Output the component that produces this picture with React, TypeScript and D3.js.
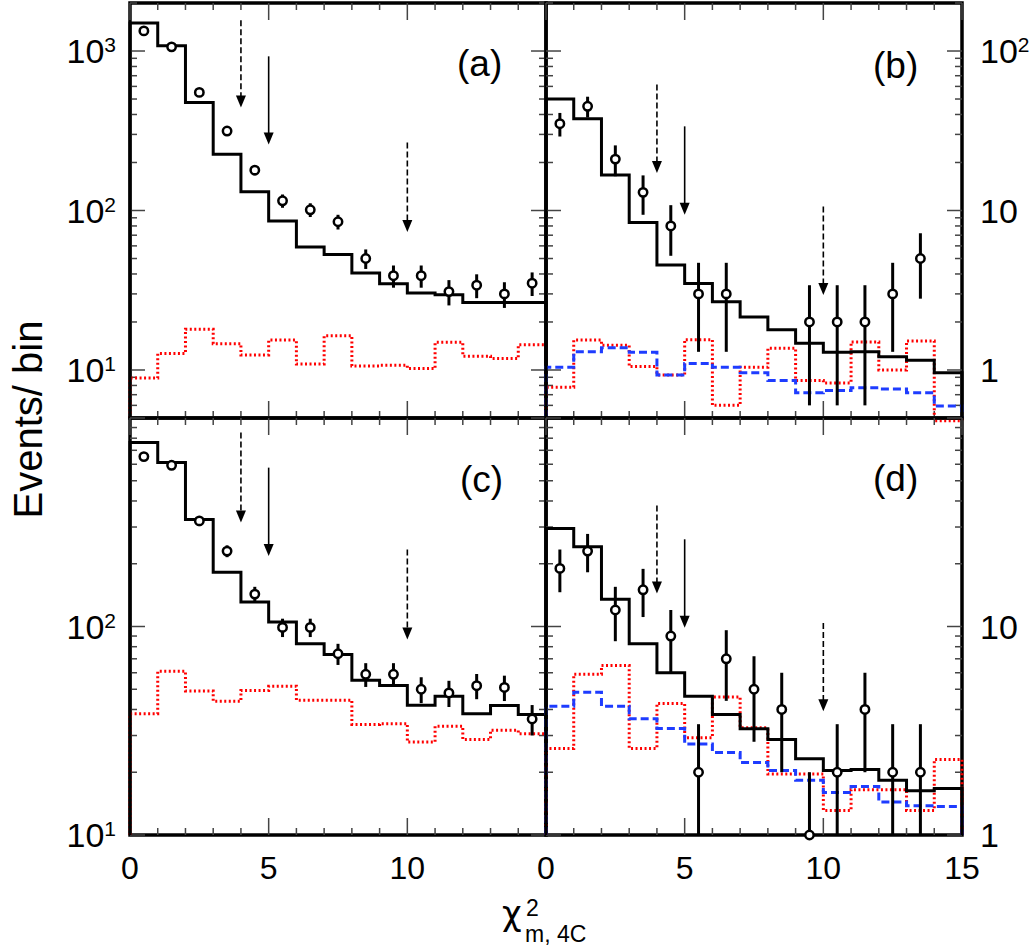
import * as d3 from 'd3'

// bins of chi2 (width 1, 0..15)
const binLow = [0, 1, 2, 3, 4, 5, 6, 7, 8, 9, 10, 11, 12, 13, 14]
const binMid = [0.5, 1.5, 2.5, 3.5, 4.5, 5.5, 6.5, 7.5, 8.5, 9.5, 10.5, 11.5, 12.5, 13.5, 14.5]

// panel (a)
const mcA = [1500, 1080, 475, 225, 131, 86, 59, 53, 40.6, 34.7, 30.4, 29.6, 26.5, 26.5, 26.5]
const redA = [8.9, 12.7, 18.0, 14.6, 12.4, 15.4, 10.9, 16.4, 10.6, 10.7, 10.2, 14.9, 12.2, 11.8, 14.4]
const dataA = [1337, 1062, 550, 315, 179, 115, 101, 85, 50, 39, 39, 31, 34, 30, 35]
const errA = [37, 33, 23, 18, 13, 11, 10, 9, 7, 6.2, 6.2, 5.6, 5.8, 5.5, 5.9]

// panel (b)
const mcB = [50, 37.6, 16.7, 8.4, 4.55, 3.49, 2.68, 2.15, 1.79, 1.47, 1.29, 1.3, 1.21, 1.15, 0.96]
const redB = [0.78, 1.54, 1.43, 1.05, 0.93, 1.55, 0.6, 1.04, 1.37, 0.86, 0.83, 1.5, 1.0, 1.52, 0.48]
const blueB = [1.04, 1.3, 1.38, 1.29, 0.93, 1.1, 1.04, 0.96, 0.86, 0.72, 0.745, 0.775, 0.76, 0.72, 0.594]
const dataB = [35, 45, 21, 13, 8, 3, 3, null, null, 2, 2, 2, 3, 5, null]
const errB = [5.9, 6.7, 4.6, 3.6, 2.8, 1.7, 1.7, null, null, 1.4, 1.4, 1.4, 1.7, 2.2, null]

// panel (c)
const mcC = [762, 611, 326, 182, 131, 105, 82.7, 73.4, 55.3, 52.1, 41.9, 46.3, 38.2, 41.8, 37.8]
const redC = [38.2, 61, 49, 43.8, 49.3, 51.7, 44.3, 44.3, 33.9, 34.2, 27.9, 33.2, 28.7, 31.8, 30.6]
const dataC = [653, 593, 321, 230, 143, 99, 99, 74, 59, 59, 50, 48, 52, 51, 36]
const errC = [26, 24, 18, 15, 12, 10, 10, 8.6, 7.7, 7.7, 7.1, 6.9, 7.2, 7.1, 6]

// panel (d)
const mcD = [29.5, 24.1, 13.5, 8.27, 6.0, 4.63, 3.78, 3.23, 2.87, 2.32, 2.04, 2.06, 1.83, 1.63, 1.67]
const redD = [2.6, 5.9, 6.5, 2.6, 4.27, 2.93, 4.59, 3.27, 1.96, 1.96, 1.31, 1.65, 1.65, 1.31, 2.3]
const blueD = [4.14, 4.84, 4.14, 3.61, 3.24, 2.73, 2.49, 2.23, 2.04, 1.83, 1.6, 1.71, 1.44, 1.38, 1.37]
const dataD = [19, 23, 12, 15, 9, 2, 7, 5, 4, 1, 2, 4, 2, 2, null]
const errD = [4.4, 4.8, 3.5, 3.9, 3, 1.4, 2.6, 2.2, 2, 1, 1.4, 2, 1.4, 1.4, null]

// cut arrows (x position, dashed or not), top and tip in event units
const arrowX = [4, 5, 10]
const arrowDashed = [true, false, true]
const arrowTopA = [1560, 926, 267]
const arrowTipA = [443, 259, 73.4]
const arrowTopB = [61.7, 33.7, 10.6]
const arrowTipB = [17.2, 9.4, 2.95]
const arrowTopC = [851, 578, 234]
const arrowTipC = [315, 218, 86.6]
const arrowTopD = [38.1, 26.2, 10.4]
const arrowTipD = [14.4, 9.86, 3.92]

// tick labels
const yLabelsA = [10, 100, 1000]
const yLabelsB = [1, 10, 100]
const yLabelsC = [10, 100]
const yLabelsD = [1, 10]
const xLabelsLeft = [0, 5, 10]
const xLabelsRight = [0, 5, 10, 15]

const colX = [[130, 546], [546, 962]]
const rowY = [[3, 418], [418, 835]]
const font = '"Liberation Sans", Arial, Helvetica, sans-serif'

const panels = [
  { name: '(a)', col: 0, row: 0, domain: [5, 2000], mc: mcA, red: redA, blue: null, data: dataA, err: errA,
    top: arrowTopA, tip: arrowTipA, yLabels: yLabelsA, lx: 457, ly: 76 },
  { name: '(b)', col: 1, row: 0, domain: [0.5, 200], mc: mcB, red: redB, blue: blueB, data: dataB, err: errB,
    top: arrowTopB, tip: arrowTipB, yLabels: yLabelsB, lx: 873, ly: 78 },
  { name: '(c)', col: 0, row: 1, domain: [10, 1000], mc: mcC, red: redC, blue: null, data: dataC, err: errC,
    top: arrowTopC, tip: arrowTipC, yLabels: yLabelsC, lx: 460, ly: 492 },
  { name: '(d)', col: 1, row: 1, domain: [1, 100], mc: mcD, red: redD, blue: blueD, data: dataD, err: errD,
    top: arrowTopD, tip: arrowTipD, yLabels: yLabelsD, lx: 873, ly: 491 },
]

const Panel = ({ p }) => {
  const [x0, x1] = colX[p.col]
  const [y0, y1] = rowY[p.row]
  const x = d3.scaleLinear().domain([0, 15]).range([x0, x1])
  const y = d3.scaleLog().domain(p.domain).range([y1, y0])
  const base = p.domain[0]

  const step = d3.line().curve(d3.curveStepAfter)
  const histPath = (vals) => {
    const pts = [[x(0), y(base)]]
    vals.forEach((v, i) => pts.push([x(binLow[i]), y(v)]))
    pts.push([x(15), y(vals[vals.length - 1])])
    pts.push([x(15), y(base)])
    return step(pts)
  }

  const yTicks = y.ticks()
  const xTicks = x.ticks(15)
  const isMajorY = (v) => Math.abs(Math.log10(v) - Math.round(Math.log10(v))) < 1e-6

  const right = p.col === 1
  const fmt = (v) => {
    const e = Math.round(Math.log10(v))
    if (right && e < 2) return <>{String(v)}</>
    return <>10<tspan dy={-11} fontSize={21}>{e}</tspan></>
  }

  return (
    <g>
      <rect x={x0} y={y0} width={x1 - x0} height={y1 - y0} fill="none" stroke="#000" strokeWidth={3.5} />
      {/* ticks */}
      <g stroke="#444" strokeWidth={1.5}>
        {yTicks.map((v, i) => {
          const len = isMajorY(v) ? 15 : 7
          return (
            <g key={'y' + i}>
              <line x1={x0} x2={x0 + len} y1={y(v)} y2={y(v)} />
              <line x1={x1} x2={x1 - len} y1={y(v)} y2={y(v)} />
            </g>
          )
        })}
        {xTicks.map((v, i) => {
          const len = v % 5 === 0 ? 17 : 7
          return (
            <g key={'x' + i}>
              <line x1={x(v)} x2={x(v)} y1={y1} y2={y1 - len} />
              <line x1={x(v)} x2={x(v)} y1={y0} y2={y0 + len} />
            </g>
          )
        })}
      </g>
      {/* histograms */}
      <path d={histPath(p.red)} fill="none" stroke="#ff0000" strokeWidth={3} strokeDasharray="2 2.5" />
      {p.blue && <path d={histPath(p.blue)} fill="none" stroke="#1e3cff" strokeWidth={3} strokeDasharray="8 4" />}
      <path d={histPath(p.mc)} fill="none" stroke="#000" strokeWidth={3} />
      {/* data points */}
      {p.data.map((v, i) => v == null ? null : (
        <line key={'e' + i} x1={x(binMid[i])} x2={x(binMid[i])}
          y1={y(Math.min(v + p.err[i], p.domain[1]))}
          y2={y(Math.max(v - p.err[i], base))}
          stroke="#000" strokeWidth={3} />
      ))}
      {p.data.map((v, i) => v == null ? null : (
        <circle key={'c' + i} cx={x(binMid[i])} cy={y(v)} r={4.2} fill="#fff" stroke="#000" strokeWidth={2.5} />
      ))}
      {/* arrows */}
      {arrowX.map((ax, i) => {
        const cx = x(ax)
        const ty = y(p.tip[i])
        return (
          <g key={'a' + i}>
            <line x1={cx} x2={cx} y1={y(p.top[i])} y2={ty - 10} stroke="#000" strokeWidth={1.6}
              strokeDasharray={arrowDashed[i] ? '6 3' : undefined} />
            <path d={`M${cx - 5},${ty - 12}L${cx + 5},${ty - 12}L${cx},${ty}Z`} fill="#000" />
          </g>
        )
      })}
      {/* panel name */}
      <text x={p.lx} y={p.ly} fontSize={37} fontFamily={font}>{p.name}</text>
      {/* y labels */}
      {p.yLabels.map((v, i) => (
        <text key={'l' + i} x={right ? 980 : 116} y={y(v) + 12} fontSize={34} fontFamily={font}
          textAnchor={right ? 'start' : 'end'}>{fmt(v)}</text>
      ))}
      {/* x labels */}
      {p.row === 1 && (p.col === 0 ? xLabelsLeft : xLabelsRight).map((v, i) => (
        <text key={'xl' + i} x={x(v)} y={879} fontSize={32} fontFamily={font} textAnchor="middle">{v}</text>
      ))}
    </g>
  )
}

const App = () => {
  return (
    <svg width={1034} height={947} style={{ position: 'absolute', left: 0, top: 0, background: '#fff' }}>
      <rect x={0} y={0} width={1034} height={947} fill="#fff" />
      {panels.map((p) => <Panel key={p.name} p={p} />)}
      <text transform="translate(42,419.5) rotate(-90)" fontSize={40} fontFamily={font} textAnchor="middle">Events/ bin</text>
      <text x={502} y={925} fontSize={34} fontFamily='"DejaVu Sans", sans-serif'>χ</text>
      <text x={526} y={916} fontSize={23} fontFamily={font}>2</text>
      <text x={525} y={942} fontSize={23} fontFamily={font}>m, 4C</text>
    </svg>
  )
}

export default App
